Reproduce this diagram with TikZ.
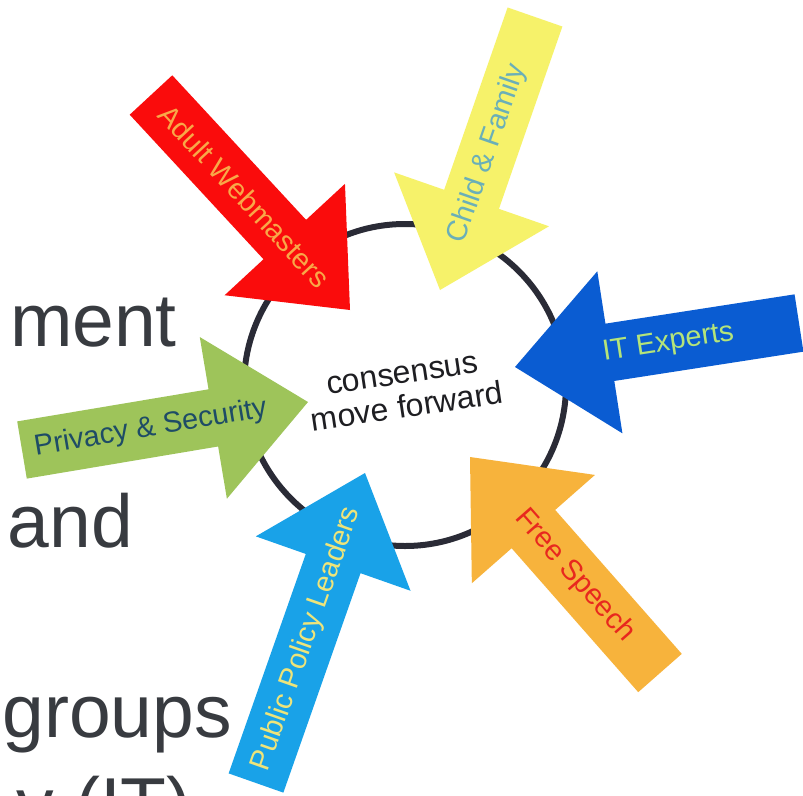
\documentclass[tikz,border=0pt]{standalone}
\usepackage{fontspec}
\newfontfamily\arial{Liberation Sans}
\usetikzlibrary{calc}
\definecolor{redA}{HTML}{FA0C0C}
\definecolor{redT}{HTML}{F8A848}
\definecolor{yelA}{HTML}{F6F26A}
\definecolor{yelT}{HTML}{6AAFB8}
\definecolor{bluA}{HTML}{0A5CD2}
\definecolor{bluT}{HTML}{B4E47A}
\definecolor{oraA}{HTML}{F7B33C}
\definecolor{oraT}{HTML}{E8281E}
\definecolor{skyA}{HTML}{19A2E8}
\definecolor{skyT}{HTML}{EEE47A}
\definecolor{grnA}{HTML}{9EC45A}
\definecolor{grnT}{HTML}{1E4C66}
\definecolor{ringC}{HTML}{2A2B36}
\definecolor{bigC}{HTML}{383B40}
\definecolor{ctrC}{HTML}{1E1E22}
\newcommand{\sw}{29pt}
\newcommand{\hw}{82pt}
\newcommand{\hl}{96pt}
% #1 name, #2 tail, #3 tip, #4 fill, #5 text colour, #6 text, #7 pos
\newcommand{\blkarrow}[7]{%
  \coordinate (#1T) at #2;
  \coordinate (#1P) at #3;
  \coordinate (#1B) at ($(#1P)!\hl!(#1T)$);
  \fill[#4] ($(#1T)!\sw!90:(#1P)$) -- ($(#1B)!\sw!90:(#1P)$) -- ($(#1B)!\hw!90:(#1P)$)
     -- (#1P) -- ($(#1B)!\hw!-90:(#1P)$) -- ($(#1B)!\sw!-90:(#1P)$) -- ($(#1T)!\sw!-90:(#1P)$) -- cycle;
  \path (#1T) -- (#1P) node[arrowtext, text=#5, pos=#7] (#1lbl) {#6};
}
\begin{document}
\begin{tikzpicture}[x=1pt,y=-1pt,
  arrowtext/.style={sloped, inner sep=0pt, font=\arial\fontsize{29}{32}\selectfont},
  bigtext/.style={anchor=base east, inner sep=0pt, text=bigC, font=\arial\fontsize{75}{80}\selectfont},
  ring/.style={draw=ringC, line width=6pt}]
\useasboundingbox (0,0) rectangle (803,795);
\clip (0,0) rectangle (803,795);
\fill[white] (0,0) rectangle (803,795);
% background slide text
\node[bigtext] (t1) at (177,346) {ment};
\node[bigtext] (t2) at (133,547) {and};
\node[bigtext] (t3) at (232,737) {groups};
\node[bigtext] (t4) at (192,830) {y (IT)};
% ring
\node[ring, circle, minimum size=322pt, inner sep=0pt] (ringn) at (405,385) {};
% arrows
\blkarrow{aw}{(151,95)}{(350,310)}{redA}{redT}{Adult Webmasters}{0.47}
\blkarrow{cf}{(535,17)}{(440,290)}{yelA}{yelT}{Child \& Family}{0.50}
\blkarrow{it}{(799,323)}{(515,367)}{bluA}{bluT}{IT Experts}{0.46}
\blkarrow{fs}{(660,673)}{(470,457)}{oraA}{oraT}{Free Speech}{0.45}
\blkarrow{pp}{(256,783)}{(365,473)}{skyA}{skyT}{Public Policy Leaders}{0.465}
\blkarrow{ps}{(22,450)}{(308,402)}{grnA}{grnT}{Privacy \& Security}{0.45}
% centre text
\node[rotate=8.5, align=center, text=ctrC, inner sep=0pt, font=\arial\fontsize{32}{34}\selectfont] (ctr) at (405,392) {consensus\\move forward};
\end{tikzpicture}
\end{document}
